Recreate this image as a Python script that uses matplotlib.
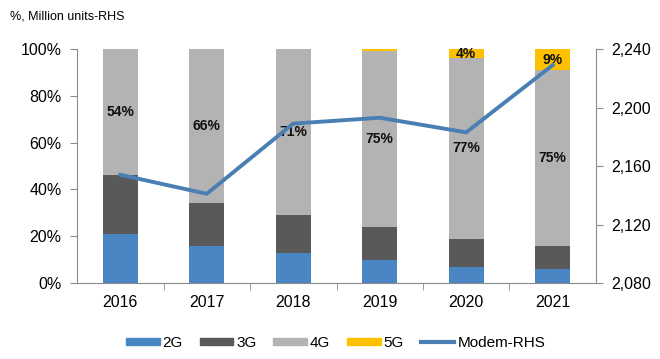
import numpy as np
import matplotlib.pyplot as plt
from matplotlib.lines import Line2D
from matplotlib.patches import Patch

years = ["2016", "2017", "2018", "2019", "2020", "2021"]
share_2g = [21, 16, 13, 10, 7, 6]
share_3g = [25, 18, 16, 14, 12, 10]
share_4g = [54, 66, 71, 75, 77, 75]
share_5g = [0, 0, 0, 1, 4, 9]
modem_rhs = [2154, 2141, 2189, 2193, 2183, 2229]

label_4g = ["54%", "66%", "71%", "75%", "77%", "75%"]
label_5g = ["", "", "", "", "4%", "9%"]

clr_2g = "#4a86c4"
clr_3g = "#595959"
clr_4g = "#b3b3b3"
clr_5g = "#ffc000"
clr_line = "#4a7fb3"
spine_clr = "#8c8c8c"

plt.rcParams['font.family'] = ['Liberation Sans', 'DejaVu Sans']

fig = plt.figure(figsize=(6.6, 3.59), dpi=100)
ax = fig.add_axes([0.1167, 0.2117, 0.7863, 0.6518])

x = np.arange(len(years))
w = 0.4
b2 = np.array(share_2g)
b3 = b2 + np.array(share_3g)
b4 = b3 + np.array(share_4g)

ax.bar(x, share_2g, w, color=clr_2g)
ax.bar(x, share_3g, w, bottom=b2, color=clr_3g)
ax.bar(x, share_4g, w, bottom=b3, color=clr_4g)
ax.bar(x, share_5g, w, bottom=b4, color=clr_5g)

for i in range(len(years)):
    ax.text(x[i], b3[i] + share_4g[i] / 2, label_4g[i], ha='center', va='center',
            fontsize=10, fontweight='bold', color='#111111')
    if label_5g[i]:
        ax.text(x[i], b4[i] + share_5g[i] / 2, label_5g[i], ha='center', va='center',
                fontsize=10, fontweight='bold', color='#111111')

ax.set_xlim(-0.5, len(years) - 0.5)
ax.set_ylim(0, 100)
ax.set_yticks(np.arange(0, 101, 20))
ax.set_yticklabels([f"{v}%" for v in range(0, 101, 20)], fontsize=11.5)
ax.set_xticks(x)
ax.set_xticklabels(years, fontsize=11.5)
ax.set_xticks(np.arange(0.5, len(years) - 1, 1), minor=True)
ax.tick_params(axis='x', which='major', length=0, pad=9)
ax.tick_params(axis='x', which='minor', length=5, color=spine_clr)
ax.tick_params(axis='y', length=5, color=spine_clr, pad=6)
for s in ['top', 'right']:
    ax.spines[s].set_visible(False)
for s in ['left', 'bottom']:
    ax.spines[s].set_color(spine_clr)

ax2 = ax.twinx()
ax2.plot(x, modem_rhs, color=clr_line, lw=2.8)
ax2.set_ylim(2080, 2240)
ax2.set_yticks(np.arange(2080, 2241, 40))
ax2.set_yticklabels([f"{v:,}" for v in range(2080, 2241, 40)], fontsize=11.5)
ax2.tick_params(axis='y', length=5, color=spine_clr, pad=6)
for s in ['top', 'left', 'bottom']:
    ax2.spines[s].set_visible(False)
ax2.spines['right'].set_color(spine_clr)

fig.text(0.015, 0.955, "%, Million units-RHS", fontsize=9, va='center', ha='left')

handles = [
    Patch(color=clr_2g, label="2G"),
    Patch(color=clr_3g, label="3G"),
    Patch(color=clr_4g, label="4G"),
    Patch(color=clr_5g, label="5G"),
    Line2D([0], [0], color=clr_line, lw=3, label="Modem-RHS"),
]
fig.legend(handles=handles, loc='center left', bbox_to_anchor=(0.17, 0.045), ncol=5,
           frameon=False, fontsize=11, handlelength=2.2, handleheight=0.35,
           columnspacing=1.1, handletextpad=0.2)

fig.savefig("out.png", dpi=100)
